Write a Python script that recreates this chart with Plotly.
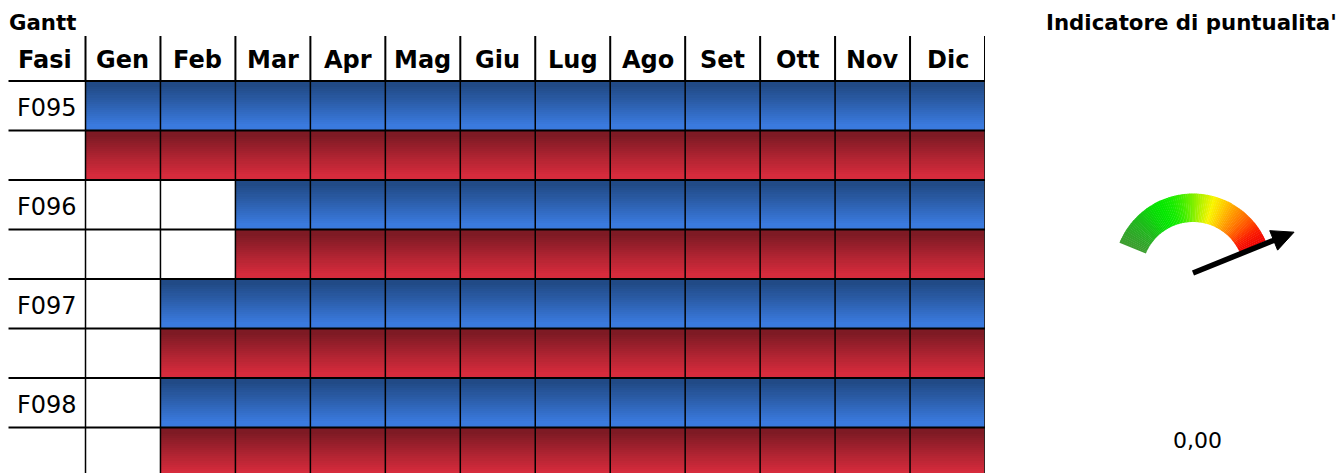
import math
import plotly.graph_objects as go

# ---- data ----
months = ["Gen", "Feb", "Mar", "Apr", "Mag", "Giu", "Lug", "Ago", "Set", "Ott", "Nov", "Dic"]
phases = ["F095", "F096", "F097", "F098"]
planned = [
    [1, 1, 1, 1, 1, 1, 1, 1, 1, 1, 1, 1],
    [0, 0, 1, 1, 1, 1, 1, 1, 1, 1, 1, 1],
    [0, 1, 1, 1, 1, 1, 1, 1, 1, 1, 1, 1],
    [0, 1, 1, 1, 1, 1, 1, 1, 1, 1, 1, 1],
]
actual = [
    [1, 1, 1, 1, 1, 1, 1, 1, 1, 1, 1, 1],
    [0, 0, 1, 1, 1, 1, 1, 1, 1, 1, 1, 1],
    [0, 1, 1, 1, 1, 1, 1, 1, 1, 1, 1, 1],
    [0, 1, 1, 1, 1, 1, 1, 1, 1, 1, 1, 1],
]
gauge_stops = [(64, 158, 50), (50, 165, 42), (38, 178, 34), (25, 195, 22), (10, 218, 8), (5, 232, 0),
               (20, 236, 0), (60, 238, 0), (120, 240, 0), (190, 243, 0), (250, 245, 0), (255, 205, 0),
               (255, 160, 0), (255, 120, 0), (255, 75, 0), (250, 25, 0), (240, 5, 5)]
gauge_indicator = "0,00"
needle_angle = 22

# ---- layout constants ----
W, H = 1339, 473
FONT = "DejaVu Sans"
STEPS = 24          # vertical shades in each cell, for the gradient
X_LEFT, X_RIGHT, Y_TOP = 8.3, 985, 36
X_MIN = -1.03
ROW_H = 49.5
HEADER_ROWS = (81 - Y_TOP) / ROW_H
ROWS_SHOWN = (H - 81) / ROW_H

n_rows = len(phases) * 2
rows = []
for p, a in zip(planned, actual):
    rows += [("blue", p), ("red", a)]

ys, z = [], []
for i, (kind, flags) in enumerate(rows):
    for k in range(STEPS):
        t = (k + 0.5) / STEPS
        ys.append(i + t)
        v = t * 0.49 if kind == "blue" else 0.51 + t * 0.49
        z.append([v if f else None for f in flags])

colorscale = [
    [0.00, "#214a86"], [0.05, "#214a86"], [0.44, "#3a7ade"], [0.49, "#3a7ade"],
    [0.495, "#ffffff"], [0.505, "#ffffff"],
    [0.51, "#7e1a24"], [0.56, "#7e1a24"], [0.95, "#d62b3c"], [1.00, "#d62b3c"],
]

fig = go.Figure()
fig.add_trace(go.Heatmap(
    x=[j + 0.5 for j in range(len(months))], y=ys, z=z, zmin=0, zmax=1,
    colorscale=colorscale, showscale=False, hoverinfo="skip",
))

# grid
shapes = []
def line(x0, y0, x1, y1, w):
    shapes.append(dict(type="line", xref="x", yref="y", x0=x0, x1=x1, y0=y0, y1=y1,
                       line=dict(color="black", width=w), layer="above"))
for j in range(len(months) + 1):
    line(j, -HEADER_ROWS, j, 0, 2)
    line(j, 0, j, n_rows, 1.5)
for i in range(n_rows + 1):
    line(X_MIN, i, 0, i, 2)
    line(0, i, len(months), i, 2)

# gauge: sectors shaded between the colour stops
SECTORS = 84
THETA_LEFT, THETA_RIGHT = 157.5, 24
def shade(u):
    p = u * (len(gauge_stops) - 1)
    i = min(int(p), len(gauge_stops) - 2)
    f = p - i
    a, b = gauge_stops[i], gauge_stops[i + 1]
    return "rgb(%d,%d,%d)" % tuple(a[c] + (b[c] - a[c]) * f for c in range(3))
span = THETA_LEFT - THETA_RIGHT
fig.add_trace(go.Barpolar(
    theta=[THETA_LEFT - (k + 0.5) * span / SECTORS for k in range(SECTORS)],
    width=[span / SECTORS + 0.3] * SECTORS,
    r=[28.5] * SECTORS, base=[51] * SECTORS,
    marker=dict(color=[shade((k + 0.5) / SECTORS) for k in range(SECTORS)], line=dict(width=0)),
    subplot="polar", hoverinfo="skip",
))
NEEDLE_R, HEAD_LEN, HEAD_HALF = 109, 22, 10.5
base_r = NEEDLE_R - HEAD_LEN
fig.add_trace(go.Scatterpolar(
    r=[0, base_r + 2], theta=[needle_angle, needle_angle], mode="lines",
    line=dict(color="black", width=5.5), subplot="polar", hoverinfo="skip",
))
head_off = math.degrees(math.atan(HEAD_HALF / base_r))
head_r = math.hypot(base_r, HEAD_HALF)
fig.add_trace(go.Scatterpolar(
    r=[NEEDLE_R, head_r, head_r, NEEDLE_R],
    theta=[needle_angle, needle_angle + head_off, needle_angle - head_off, needle_angle],
    mode="lines", fill="toself", fillcolor="black", line=dict(color="black", width=1),
    subplot="polar", hoverinfo="skip",
))

# texts
ann = []
def text(x, y, s, bold=False, size=24, **kw):
    ann.append(dict(x=x, y=y, text=f"<b>{s}</b>" if bold else s, showarrow=False,
                    font=dict(family=FONT, size=size, color="black"), **kw))
header_y = -HEADER_ROWS + 0.49
text(-0.547, header_y, "Fasi", bold=True, xref="x", yref="y")
for j, m in enumerate(months):
    text(j + 0.5, header_y, m, bold=True, xref="x", yref="y")
for i, p in enumerate(phases):
    text(-0.513, 2 * i + 0.55, p, xref="x", yref="y")
text(7 / W, 1 - 23 / H, "Gantt", bold=True, size=21.3, xref="paper", yref="paper", xanchor="left", yanchor="middle")
text(1044 / W, 1 - 23 / H, "Indicatore di puntualita'", bold=True, size=21.3, xref="paper", yref="paper", xanchor="left", yanchor="middle")
text(1197 / W, 1 - 440.5 / H, gauge_indicator, size=22, xref="paper", yref="paper", xanchor="center", yanchor="middle")

R = 115
cx, cy = 1193, 273
fig.update_layout(
    width=W, height=H, margin=dict(l=0, r=0, t=0, b=0),
    paper_bgcolor="white", plot_bgcolor="white", showlegend=False,
    font=dict(family=FONT),
    xaxis=dict(domain=[X_LEFT / W, X_RIGHT / W], range=[X_MIN, len(months)], visible=False, fixedrange=True),
    yaxis=dict(domain=[0, 1 - Y_TOP / H], range=[ROWS_SHOWN, -HEADER_ROWS], visible=False, fixedrange=True),
    polar=dict(
        domain=dict(x=[(cx - R) / W, (cx + R) / W], y=[1 - (cy + R) / H, 1 - (cy - R) / H]),
        bgcolor="rgba(0,0,0,0)",
        radialaxis=dict(range=[0, R], visible=False),
        angularaxis=dict(visible=False),
    ),
    shapes=shapes, annotations=ann,
)
fig.write_html("out.html", post_script="document.body.style.margin='0';document.body.style.overflow='hidden';",
               config=dict(displayModeBar=False))
